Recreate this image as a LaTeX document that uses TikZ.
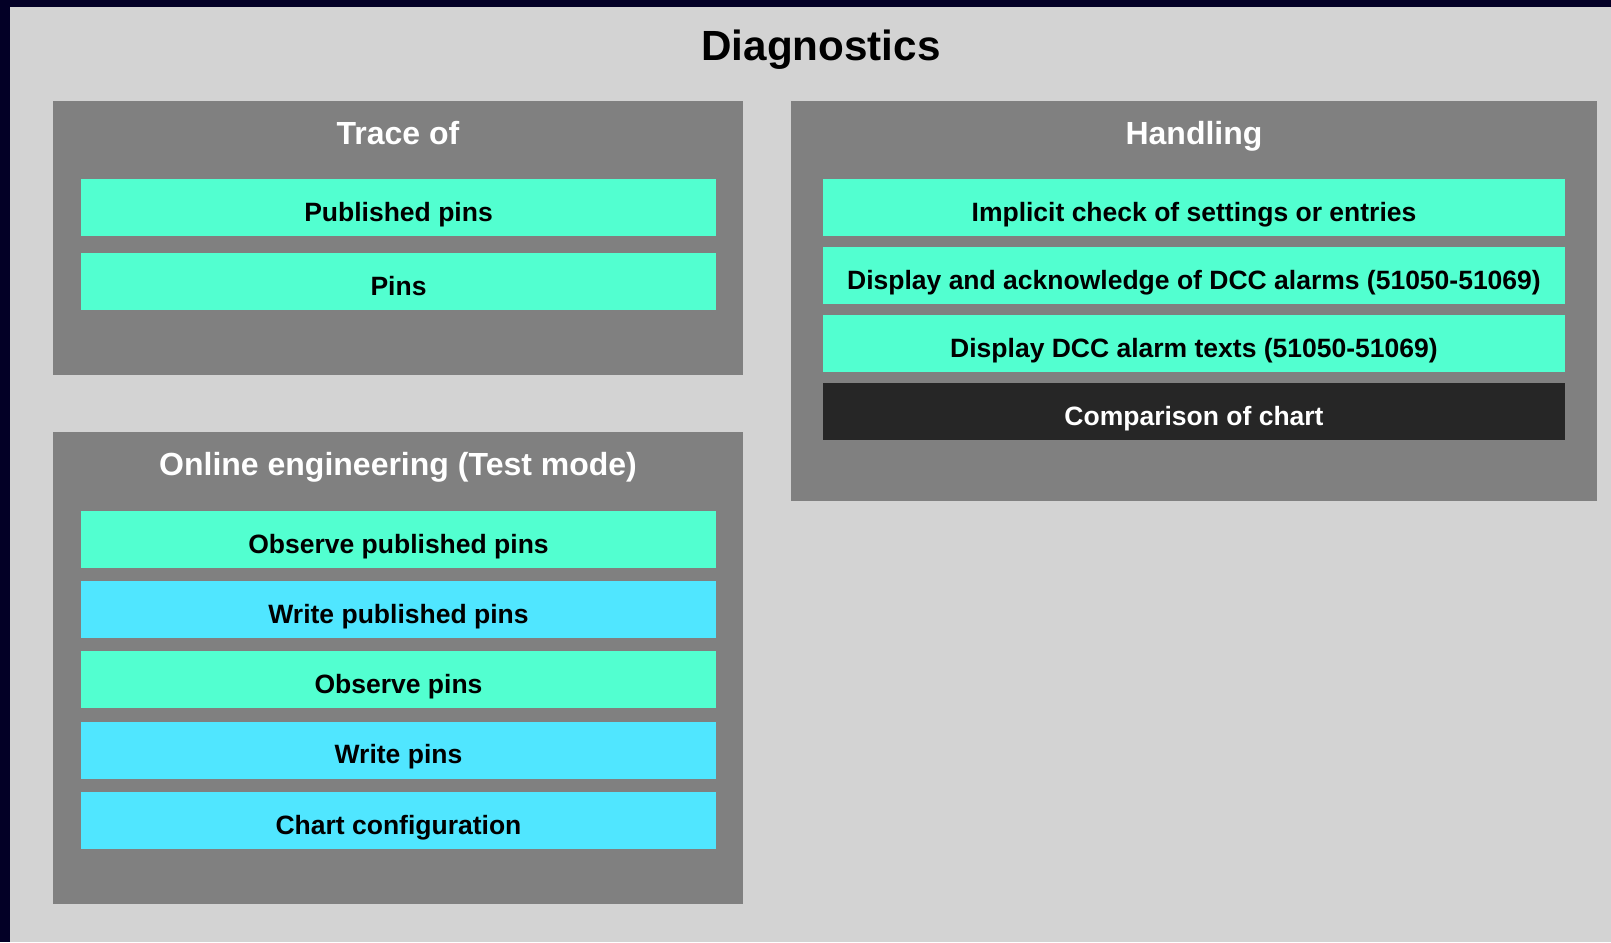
\documentclass[tikz,border=0pt]{standalone}
\usepackage{fontspec}
\setmainfont{Liberation Sans}
\definecolor{framecol}{RGB}{3,0,38}
\definecolor{bggray}{RGB}{211,211,211}
\definecolor{panelgray}{RGB}{128,128,128}
\definecolor{mintbox}{RGB}{82,255,208}
\definecolor{skybox}{RGB}{80,230,255}
\definecolor{darkbox}{RGB}{38,38,38}

\begin{document}
\begin{tikzpicture}[x=0.5pt,y=-0.5pt,
    item/.style={rectangle,inner sep=0pt,outer sep=0pt,minimum height=28.5pt,
        text height=1.38em,text depth=0pt,font=\fontsize{13.25}{15}\selectfont\bfseries},
    leftitem/.style={item,minimum width=317.5pt},
    rightitem/.style={item,minimum width=371pt},
    paneltitle/.style={anchor=base,text=white,font=\fontsize{16}{19}\selectfont\bfseries}]
        % frame and background
        \fill[framecol] (0,0) rectangle (1611,942);
        \fill[bggray] (10,7) rectangle (1611,942);
        \node[anchor=base,font=\fontsize{21.1}{25}\selectfont\bfseries] (diag) at (821,60) {Diagnostics};

        % panels
        \fill[panelgray] (53,101) rectangle (743,375);
        \fill[panelgray] (53,432) rectangle (743,904);
        \fill[panelgray] (791,101) rectangle (1597,501);

        \node[paneltitle] (trace) at (398,144) {Trace of};
        \node[paneltitle] (handling) at (1194,144) {Handling};
        \node[paneltitle] (online) at (398,475) {Online engineering (Test mode)};

        % trace of
        \node[leftitem,fill=mintbox] (pubpins) at (398.5,207.5) {Published pins};
        \node[leftitem,fill=mintbox] (pins) at (398.5,281.5) {Pins};

        % handling
        \node[rightitem,fill=mintbox] (implicit) at (1194,207.5) {Implicit check of settings or entries};
        \node[rightitem,fill=mintbox] (ackdcc) at (1194,275.5) {Display and acknowledge of DCC alarms (51050-51069)};
        \node[rightitem,fill=mintbox] (textdcc) at (1194,343.5) {Display DCC alarm texts (51050-51069)};
        \node[rightitem,fill=darkbox,text=white] (compare) at (1194,411.5) {Comparison of chart};

        % online engineering
        \node[leftitem,fill=mintbox] (obspub) at (398.5,539.5) {Observe published pins};
        \node[leftitem,fill=skybox] (wrpub) at (398.5,609.5) {Write published pins};
        \node[leftitem,fill=mintbox] (obspins) at (398.5,679.5) {Observe pins};
        \node[leftitem,fill=skybox] (wrpins) at (398.5,750) {Write pins};
        \node[leftitem,fill=skybox] (chartcfg) at (398.5,820.5) {Chart configuration};

\end{tikzpicture}
\end{document}
